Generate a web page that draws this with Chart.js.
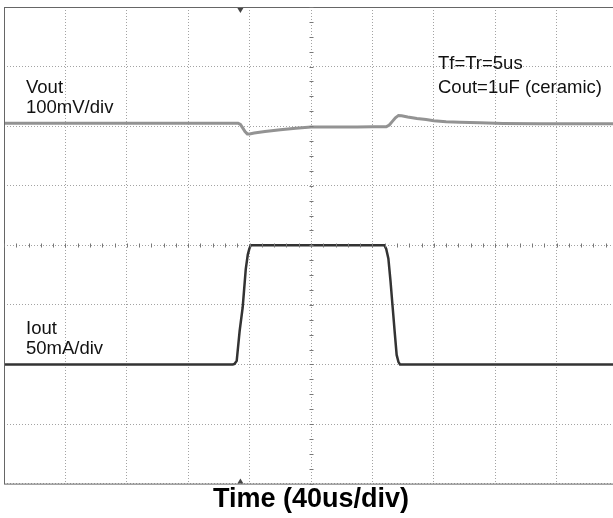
<!DOCTYPE html>
<html>
<head>
<meta charset="utf-8">
<script src="https://cdn.jsdelivr.net/npm/chart.js@4.4.1/dist/chart.umd.min.js"></script>
<style>
  html, body { margin: 0; padding: 0; background: #fff; overflow: hidden; }
  #wrap { position: relative; width: 623px; height: 518px; }
</style>
</head>
<body>
<div id="wrap"><canvas id="scope" width="623" height="518"></canvas></div>
<script>
// time in us, 40us/div, trigger in the middle of the screen
const timeMin = -200;
const timeMax = 200;
const timeStep = 40;

// Vout deviation (mV), 100mV/div
const voutTime = [-200, -100, -49, -47.5, -46, -44.5, -43, -41.5, -40, -37, -30, -20, -10, 0, 10, 20, 30, 40, 49, 51, 53, 55, 57, 59, 63, 69, 75, 80, 88, 97, 110, 125, 150, 200];
const voutMv = [0, 0, 0, 0, -2, -8, -14, -18, -18, -16.5, -14, -11, -8.5, -6.5, -6.5, -6.5, -6.5, -6, -6, -3, 3, 9, 13, 12.5, 10.5, 8, 6, 4, 2.5, 1.5, 0.5, -0.5, -1, -1];

// Iout (mA), 50mA/div
const ioutTime = [-200, -150, -100, -51, -49.8, -48.4, -46.5, -44.5, -42.5, -41.2, -40.2, -39.3, -20, 0, 20, 40, 47.8, 49, 50.4, 51.8, 53.2, 54.6, 55.8, 57, 58, 100, 150, 200];
const ioutMa = [0, 0, 0, 0, 0.5, 3, 28, 48, 80, 92, 97, 100, 100, 100, 100, 100, 100, 97, 89, 70, 48, 26, 8, 2, 0, 0, 0, 0];

// screen ranges of the two channels (8 divisions each)
const ioutRange = [-100, 300];
const voutRange = [-605, 195];
const triggerTime = -46;

const scopeDecor = {
  id: 'scopeDecor',
  afterDraw(chart) {
    const { ctx, chartArea: a, scales } = chart;
    const xs = scales.x, yi = scales.yi;
    ctx.save();

    // frame
    ctx.strokeStyle = '#666';
    ctx.lineWidth = 1;
    ctx.strokeRect(a.left + 0.5, a.top + 0.5, a.right - a.left, a.bottom - a.top);

    // minor ticks on the centre lines
    const cx = Math.round(xs.getPixelForValue(0)) + 0.5;
    const cy = Math.round(yi.getPixelForValue(100)) + 0.5;
    ctx.strokeStyle = '#777';
    ctx.beginPath();
    for (let t = timeMin; t <= timeMax; t += timeStep / 5) {
      const px = Math.round(xs.getPixelForValue(t)) + 0.5;
      ctx.moveTo(px, cy - 2);
      ctx.lineTo(px, cy + 2);
    }
    for (let v = ioutRange[0]; v <= ioutRange[1]; v += 12.5) {
      const py = Math.round(yi.getPixelForValue(v)) + 0.5;
      ctx.moveTo(cx - 2, py);
      ctx.lineTo(cx + 2, py);
    }
    ctx.stroke();

    // trigger markers
    const tx = xs.getPixelForValue(triggerTime);
    ctx.fillStyle = '#444';
    ctx.beginPath();
    ctx.moveTo(tx - 3, a.top + 1);
    ctx.lineTo(tx + 3, a.top + 1);
    ctx.lineTo(tx, a.top + 6);
    ctx.closePath();
    ctx.fill();
    ctx.beginPath();
    ctx.moveTo(tx - 3, a.bottom);
    ctx.lineTo(tx + 3, a.bottom);
    ctx.lineTo(tx, a.bottom - 5);
    ctx.closePath();
    ctx.fill();

    // channel labels
    ctx.fillStyle = '#111';
    ctx.font = '18.5px "Liberation Sans", Arial, sans-serif';
    ctx.textBaseline = 'alphabetic';
    ctx.fillText('Vout', a.left + 22, 93);
    ctx.fillText('100mV/div', a.left + 22, 113);
    ctx.fillText('Tf=Tr=5us', a.left + 434, 69);
    ctx.fillText('Cout=1uF (ceramic)', a.left + 434, 93);
    ctx.fillText('Iout', a.left + 22, 334);
    ctx.fillText('50mA/div', a.left + 22, 354);
    ctx.restore();
  }
};

const gridOpts = { color: '#a3a3a3', lineWidth: 1, drawTicks: false };

new Chart(document.getElementById('scope'), {
  type: 'line',
  data: {
    datasets: [
      {
        label: 'Vout',
        data: voutTime.map((t, i) => ({ x: t, y: voutMv[i] })),
        yAxisID: 'yv',
        borderColor: '#939393',
        borderWidth: 3,
        pointRadius: 0,
        tension: 0
      },
      {
        label: 'Iout',
        data: ioutTime.map((t, i) => ({ x: t, y: ioutMa[i] })),
        yAxisID: 'yi',
        borderColor: '#333',
        borderWidth: 2.5,
        pointRadius: 0,
        tension: 0
      }
    ]
  },
  options: {
    responsive: false,
    animation: false,
    layout: { padding: { left: 4, top: 7, right: 5, bottom: 2 } },
    plugins: { legend: { display: false }, tooltip: { enabled: false } },
    scales: {
      x: {
        type: 'linear',
        min: timeMin,
        max: timeMax,
        ticks: { display: false, stepSize: timeStep },
        grid: gridOpts,
        border: { display: false, dash: [1, 2] },
        title: {
          display: true,
          text: 'Time (40us/div)',
          color: '#000',
          font: { family: '"Liberation Sans", Arial, sans-serif', size: 27, weight: 'bold' },
          padding: { top: 0, bottom: 0 }
        }
      },
      yi: {
        position: 'left',
        min: ioutRange[0],
        max: ioutRange[1],
        ticks: { display: false, stepSize: 50 },
        grid: gridOpts,
        border: { display: false, dash: [1, 2] }
      },
      yv: {
        display: false,
        min: voutRange[0],
        max: voutRange[1]
      }
    }
  },
  plugins: [scopeDecor]
});
</script>
</body>
</html>
